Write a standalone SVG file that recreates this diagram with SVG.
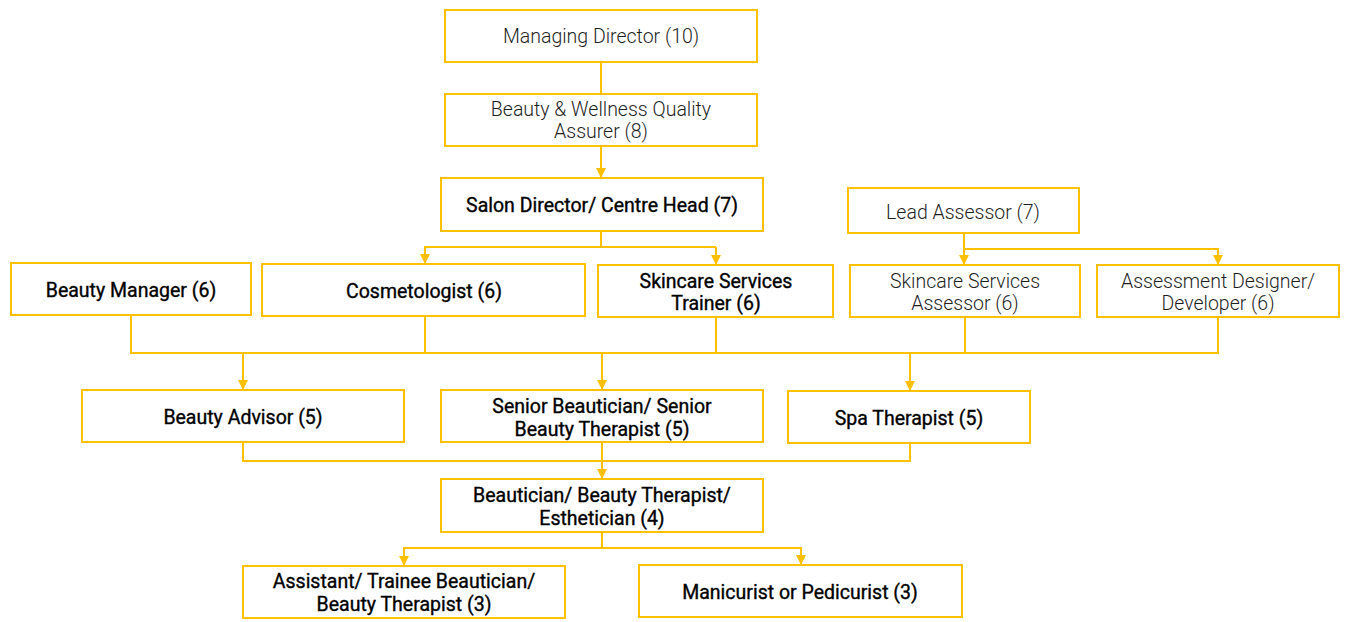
<svg xmlns="http://www.w3.org/2000/svg" width="1346" height="622" viewBox="0 0 1346 622">
<style>
.box{fill:#fff;stroke:#FFC000;stroke-width:2}
.t{font-family:Roboto,"Liberation Sans",sans-serif;font-size:19.5px;text-anchor:middle;dominant-baseline:central}
.b{font-weight:400;fill:#000;stroke:#000;stroke-width:0.35}
.l{font-weight:300;fill:#1f1f1f}
.c{fill:none;stroke:#FFC000;stroke-width:2}
</style>
<defs>
<marker id="ah" viewBox="0 0 10 10" refX="10" refY="5" markerWidth="10" markerHeight="11" markerUnits="userSpaceOnUse" orient="auto">
<path d="M0,0 L10,5 L0,10 z" fill="#FFC000"/>
</marker>
</defs>
<rect width="1346" height="622" fill="#fff"/>
<g id="connectors">
<path class="c" d="M601,62 V94"/>
<path class="c" d="M601,146 V178" marker-end="url(#ah)"/>
<path class="c" d="M601,231 V247 H716"/>
<path class="c" d="M601,247 H425 V264" marker-end="url(#ah)"/>
<path class="c" d="M716,247 V265" marker-end="url(#ah)"/>
<path class="c" d="M964,233 V249 H1218 V265" marker-end="url(#ah)"/>
<path class="c" d="M964,249 V265" marker-end="url(#ah)"/>
<path class="c" d="M131,315 V353 H1218 V317"/>
<path class="c" d="M425,316 V353"/>
<path class="c" d="M716,317 V353"/>
<path class="c" d="M965,317 V353"/>
<path class="c" d="M243,353 V390" marker-end="url(#ah)"/>
<path class="c" d="M602,353 V390" marker-end="url(#ah)"/>
<path class="c" d="M910,353 V391" marker-end="url(#ah)"/>
<path class="c" d="M243,442 V461 H910 V443"/>
<path class="c" d="M602,442 V479" marker-end="url(#ah)"/>
<path class="c" d="M602,532 V548 H801 V565" marker-end="url(#ah)"/>
<path class="c" d="M602,548 H404 V566" marker-end="url(#ah)"/>
</g>
<g id="n-md"><rect class="box" x="445" y="10" width="312" height="52"/><text class="t l" x="601" y="36">Managing Director (10)</text></g>
<g id="n-bwqa"><rect class="box" x="445" y="94" width="312" height="52"/><text class="t l" x="601" y="109">Beauty &amp; Wellness Quality</text><text class="t l" x="601" y="131">Assurer (8)</text></g>
<g id="n-salon"><rect class="box" x="441" y="178" width="322" height="53"/><text class="t b" x="602" y="205">Salon Director/ Centre Head (7)</text></g>
<g id="n-lead"><rect class="box" x="848" y="188" width="231" height="45"/><text class="t l" x="963" y="212">Lead Assessor (7)</text></g>
<g id="n-bm"><rect class="box" x="11" y="263" width="240" height="52"/><text class="t b" x="131" y="290">Beauty Manager (6)</text></g>
<g id="n-cos"><rect class="box" x="262" y="264" width="323" height="52"/><text class="t b" x="424" y="291">Cosmetologist (6)</text></g>
<g id="n-sst"><rect class="box" x="598" y="265" width="235" height="52"/><text class="t b" x="716" y="281">Skincare Services</text><text class="t b" x="716" y="303">Trainer (6)</text></g>
<g id="n-ssa"><rect class="box" x="850" y="265" width="230" height="52"/><text class="t l" x="965" y="281">Skincare Services</text><text class="t l" x="965" y="303">Assessor (6)</text></g>
<g id="n-ad"><rect class="box" x="1097" y="265" width="242" height="52"/><text class="t l" x="1218" y="281">Assessment Designer/</text><text class="t l" x="1218" y="303">Developer (6)</text></g>
<g id="n-ba"><rect class="box" x="82" y="390" width="322" height="52"/><text class="t b" x="243" y="417">Beauty Advisor (5)</text></g>
<g id="n-sb"><rect class="box" x="441" y="390" width="322" height="52"/><text class="t b" x="602" y="406">Senior Beautician/ Senior</text><text class="t b" x="602" y="429">Beauty Therapist (5)</text></g>
<g id="n-spa"><rect class="box" x="788" y="391" width="242" height="52"/><text class="t b" x="909" y="418">Spa Therapist (5)</text></g>
<g id="n-beaut"><rect class="box" x="441" y="479" width="322" height="53"/><text class="t b" x="602" y="495">Beautician/ Beauty Therapist/</text><text class="t b" x="602" y="518">Esthetician (4)</text></g>
<g id="n-asst"><rect class="box" x="243" y="566" width="322" height="52"/><text class="t b" x="404" y="581">Assistant/ Trainee Beautician/</text><text class="t b" x="404" y="604">Beauty Therapist (3)</text></g>
<g id="n-man"><rect class="box" x="639" y="565" width="323" height="52"/><text class="t b" x="800" y="592">Manicurist or Pedicurist (3)</text></g>
</svg>
